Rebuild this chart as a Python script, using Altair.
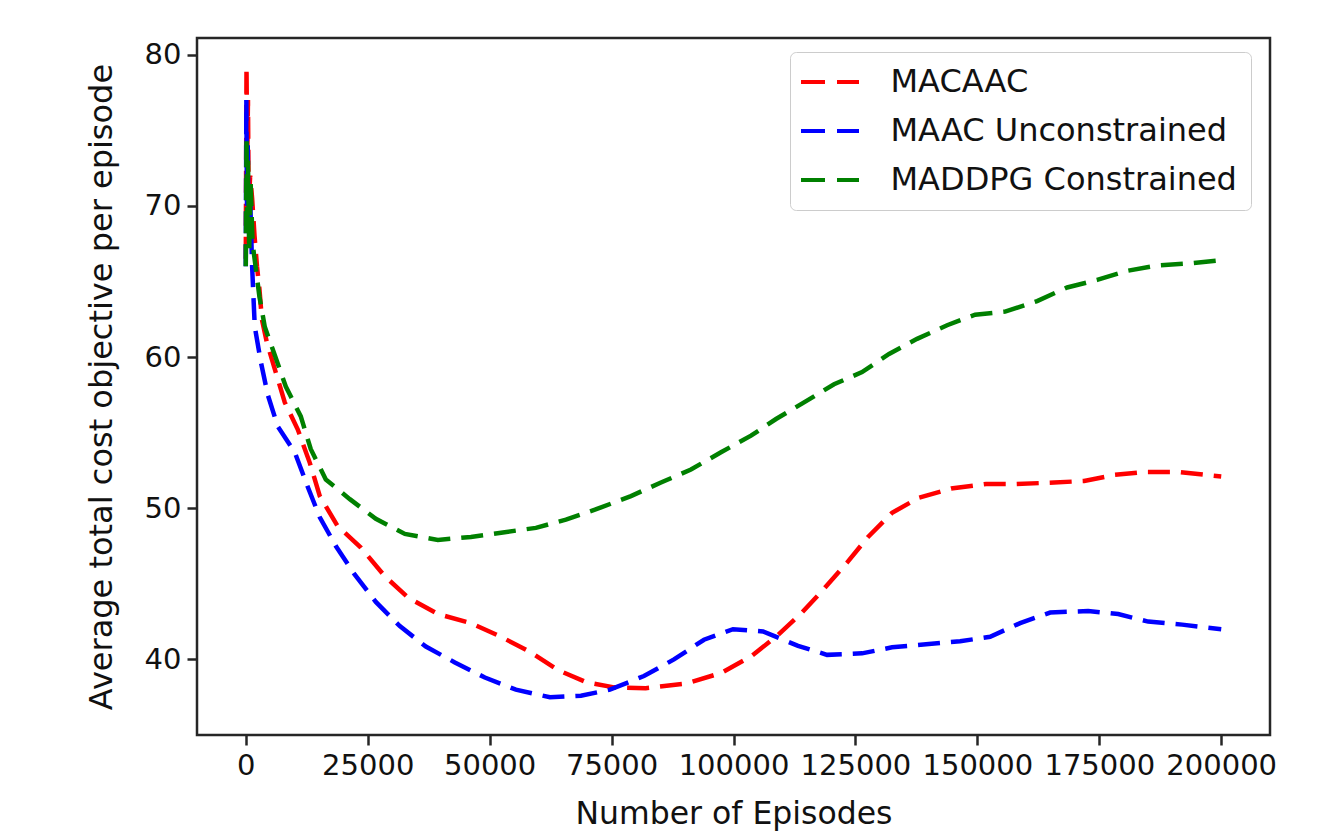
import altair as alt
import pandas as pd

series_names = ["MACAAC", "MAAC Unconstrained", "MADDPG Constrained"]
series_colors = ["red", "blue", "green"]

macaac_x = [0, 150, 300, 450, 600, 900, 1300, 1800, 2300, 2800, 3300, 4300, 5949, 8000, 10667,
            13128, 15179, 18872, 23590, 28513, 33231, 39385, 46154, 52308, 58256, 64000, 69744,
            75487, 82000, 90256, 97436, 103590, 108718, 114051, 118359, 123282, 127590, 132513,
            138051, 144615, 151795, 158000, 165744, 171897, 178051, 184205, 191179, 200000]
macaac_y = [66.5, 79.2, 73.0, 77.0, 70.0, 72.0, 70.5, 68.0, 66.0, 64.5, 62.5, 61.0, 59.2, 57.0, 55.2,
            53.0, 50.8, 48.8, 47.4, 45.5, 44.1, 43.0, 42.4, 41.5, 40.5, 39.3, 38.5,
            38.15, 38.1, 38.4, 39.1, 40.2, 41.5, 43.1, 44.6, 46.4, 48.1, 49.7,
            50.7, 51.3, 51.6, 51.6, 51.7, 51.8, 52.2, 52.4, 52.4, 52.1]

maac_x = [0, 120, 250, 400, 600, 900, 1300, 1846, 3077, 4513, 6564, 10051, 12718, 15179, 18462,
          22359, 26667, 31590, 36923, 42872, 49026, 55385, 62359, 68718, 74667, 81641, 87795,
          93949, 99897, 106051, 113231, 119179, 126359, 132513, 139487, 146462, 152615, 158769,
          164923, 172718, 178872, 185026, 192000, 200000]
maac_y = [66.0, 77.0, 70.0, 74.0, 68.0, 70.5, 66.0, 62.0, 59.7, 57.5, 55.4, 53.7, 51.4, 49.4, 47.5,
          45.6, 43.8, 42.2, 40.85, 39.8, 38.8, 38.0, 37.5, 37.6, 38.0, 38.9, 40.0,
          41.3, 42.0, 41.85, 40.9, 40.3, 40.4, 40.8, 41.0, 41.2, 41.5, 42.4,
          43.1, 43.2, 43.0, 42.5, 42.3, 42.0]

maddpg_x = [0, 150, 300, 450, 700, 1000, 1400, 2000, 2800, 3897, 8205, 11282, 13333, 16410, 21333,
            26667, 32615, 39385, 46154, 52718, 59487, 65641, 71590, 78974, 85128, 91282, 97436,
            103590, 108718, 114462, 120615, 126359, 131897, 137641, 143795, 149538, 155692,
            162256, 168410, 174564, 180718, 186872, 193846, 200000]
maddpg_y = [66.0, 74.5, 68.0, 73.0, 67.0, 71.5, 67.5, 66.0, 64.0, 62.0, 58.05, 56.07, 53.9, 51.9, 50.6,
            49.3, 48.3, 47.9, 48.1, 48.4, 48.7, 49.25, 49.9, 50.8, 51.7, 52.56, 53.7,
            54.8, 55.9, 57.0, 58.2, 59.0, 60.2, 61.2, 62.1, 62.8, 63.0,
            63.7, 64.6, 65.1, 65.7, 66.05, 66.2, 66.4]

x_ticks = [0, 25000, 50000, 75000, 100000, 125000, 150000, 175000, 200000]
y_ticks = [40, 50, 60, 70, 80]

rows = []
for name, xs, ys in zip(series_names, [macaac_x, maac_x, maddpg_x], [macaac_y, maac_y, maddpg_y]):
    for i, (a, b) in enumerate(zip(xs, ys)):
        rows.append({"series": name, "episodes": a, "cost": b, "order": i})
df = pd.DataFrame(rows)

FONT = "DejaVu Sans"
AX = "#262626"

chart = alt.Chart(df).mark_line(strokeWidth=4.5, strokeDash=[22, 11]).encode(
    x=alt.X("episodes:Q",
            scale=alt.Scale(domain=[-10000, 210000], nice=False, zero=False),
            axis=alt.Axis(values=x_ticks, format="d", title="Number of Episodes",
                          labelOverlap=False, labelFlush=False)),
    y=alt.Y("cost:Q",
            scale=alt.Scale(domain=[35.0, 81.1], nice=False, zero=False),
            axis=alt.Axis(values=y_ticks, title="Average total cost objective per episode")),
    color=alt.Color("series:N",
                    scale=alt.Scale(domain=series_names, range=series_colors),
                    legend=alt.Legend(title=None, orient="none", legendX=593, legendY=14,
                                      symbolType="M-2,0H2", symbolSize=841,
                                      symbolStrokeWidth=4, symbolDash=[24, 12],
                                      symbolOffset=10,
                                      labelFontSize=32, labelFont=FONT, labelColor="#111",
                                      labelLimit=600,
                                      labelOffset=44, rowPadding=16, padding=13.5,
                                      strokeColor="#cccccc", fillColor="white",
                                      cornerRadius=6)),
    order="order:Q",
).properties(
    width=1073, height=697,
    autosize=alt.AutoSizeParams(type="none"),
    padding={"left": 189, "top": 30, "right": 40, "bottom": 96},
).configure_view(
    stroke=AX, strokeWidth=2.5
).configure_axis(
    grid=False, domain=False,
    tickColor=AX, tickWidth=2.5, tickSize=10,
    labelFont=FONT, labelFontSize=29, labelColor="#111", labelPadding=6,
    titleFont=FONT, titleColor="#111", titleFontWeight="normal",
).configure_axisX(
    titlePadding=18, titleFontSize=31.5
).configure_axisY(
    titlePadding=26, titleFontSize=32
)

chart.save("out.html", embed_options={"renderer": "svg", "actions": False})
